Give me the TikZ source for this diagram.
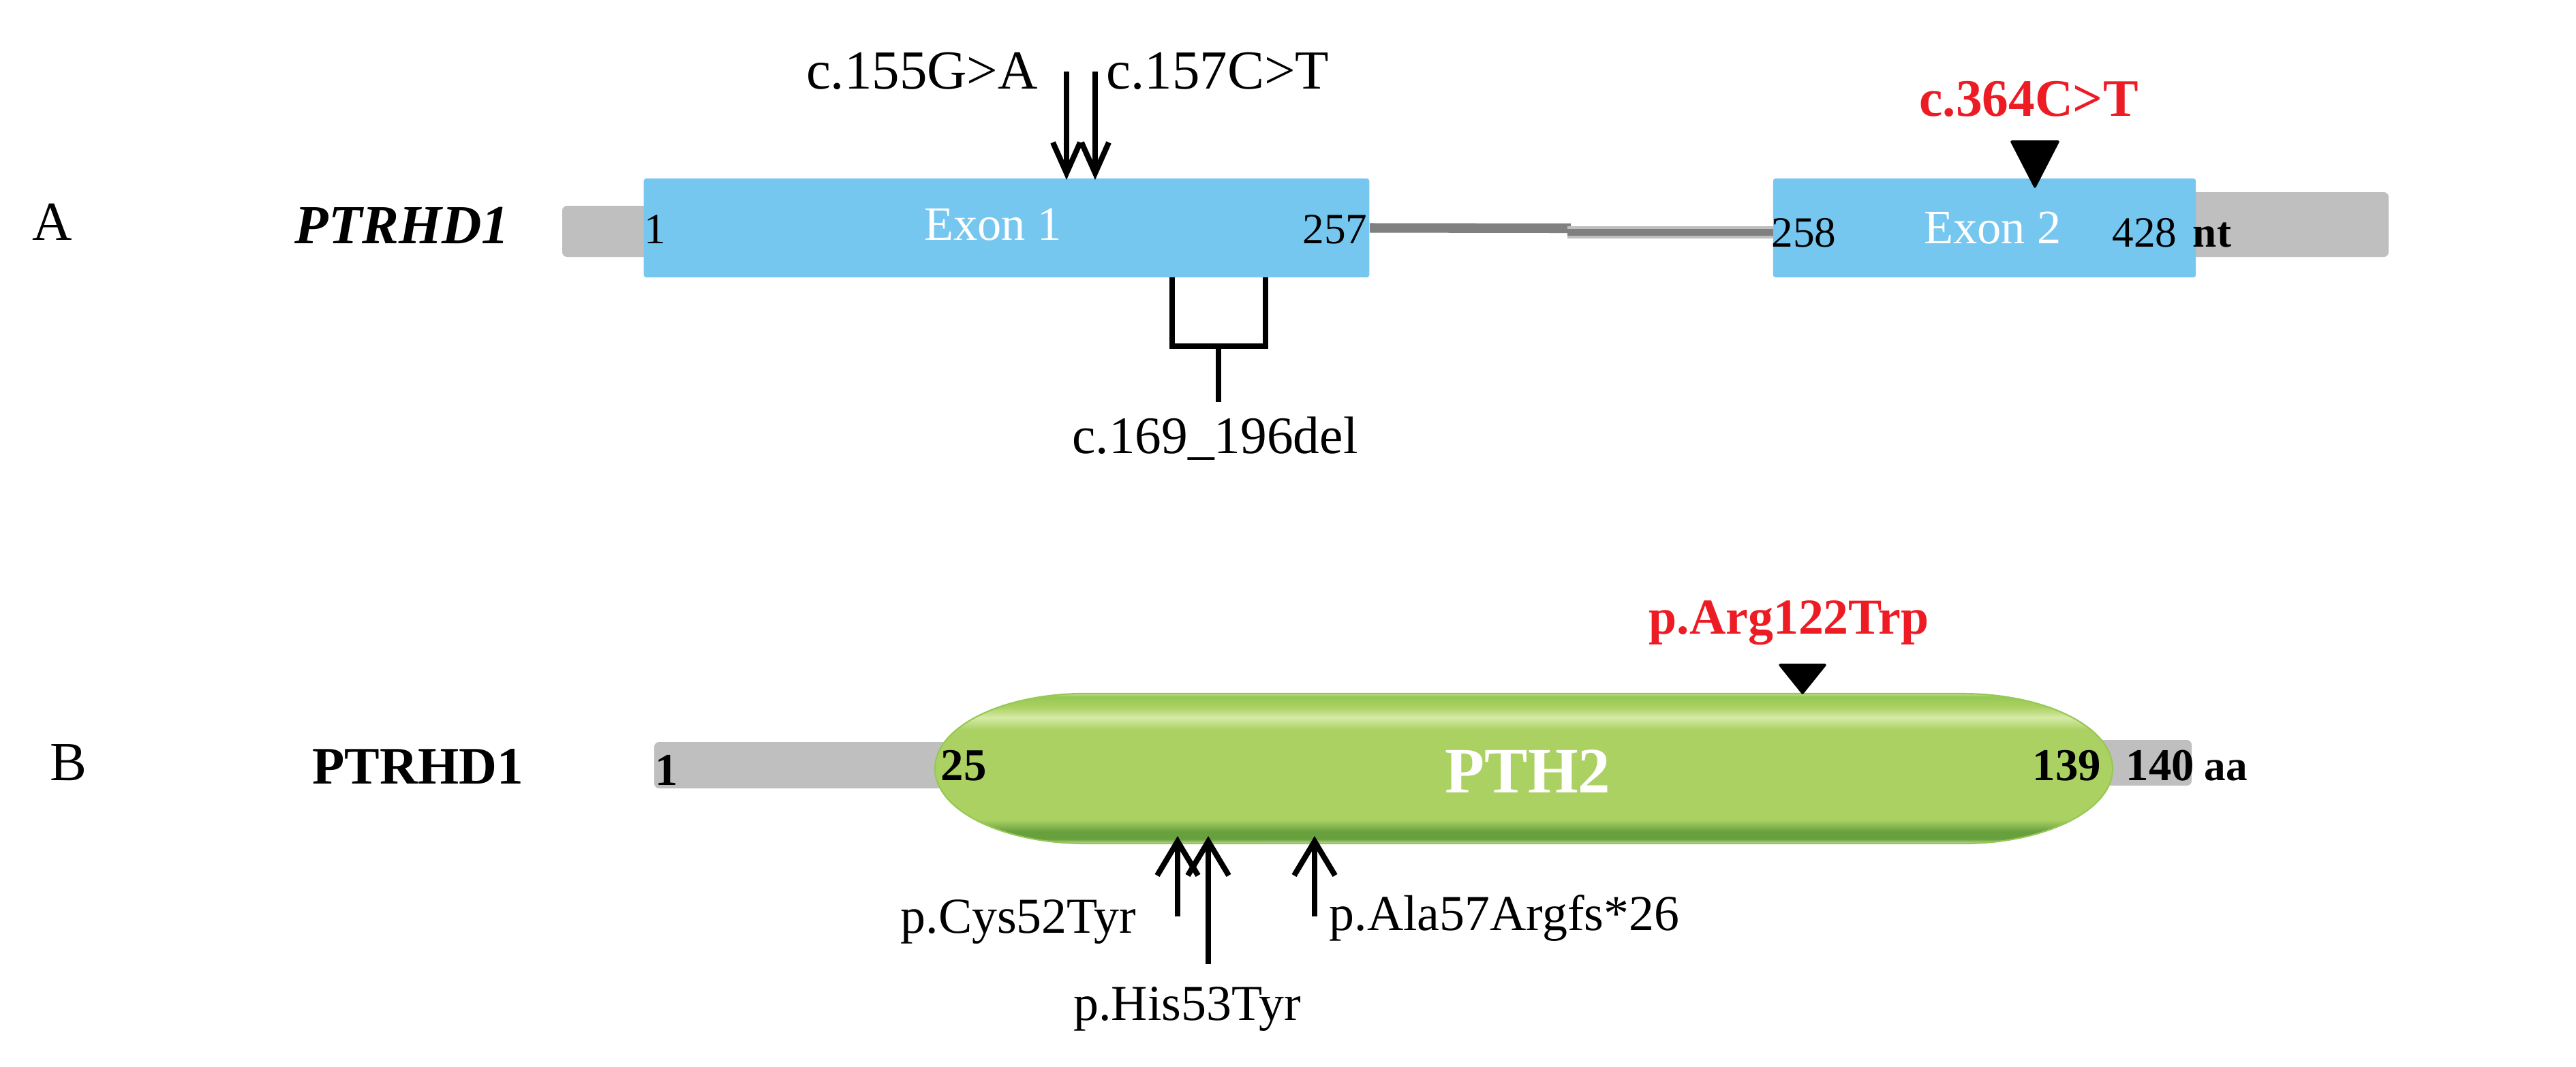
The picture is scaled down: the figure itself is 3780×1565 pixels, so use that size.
\documentclass[tikz,border=0pt]{standalone}
\usepackage{fontspec}
\setmainfont{Liberation Serif}
\usetikzlibrary{arrows.meta}
\definecolor{exonblue}{RGB}{117,199,240}
\definecolor{utrgrey}{RGB}{191,191,191}
\definecolor{intgrey}{RGB}{128,128,128}
\definecolor{mutred}{RGB}{237,28,36}
\definecolor{pilledge}{RGB}{196,224,150}
\definecolor{pilldark}{RGB}{104,160,62}
\definecolor{pillmid}{RGB}{171,209,99}
\definecolor{pilllight}{RGB}{214,234,166}
\definecolor{pilltop}{RGB}{150,200,85}
\pgfdeclareverticalshading{pillshade}{100bp}{color(0bp)=(pilledge); color(25bp)=(pilledge); color(26.5bp)=(pilldark); color(29bp)=(pilldark); color(33bp)=(pillmid); color(63bp)=(pillmid); color(67bp)=(pilllight); color(70.5bp)=(pillmid); color(74bp)=(pilltop); color(75bp)=(pilledge); color(100bp)=(pilledge)}

\begin{document}
\begin{tikzpicture}[x=0.01cm,y=-0.01cm]
\tikzset{txt/.style = {inner sep=0pt, anchor=base, font=\fontsize{23}{26}\selectfont}}
\tikzset{ptxt/.style = {inner sep=0pt, anchor=base, font=\fontsize{21}{24}\selectfont}}
\tikzset{redtxt/.style = {inner sep=0pt, anchor=base, text=mutred, font=\fontsize{22}{25}\selectfont\bfseries}}
\tikzset{numtxt/.style = {inner sep=0pt, anchor=base, font=\fontsize{18}{20}\selectfont}}
\tikzset{bnumtxt/.style = {inner sep=0pt, anchor=base, font=\fontsize{19}{21}\selectfont\bfseries}}
\tikzset{exontxt/.style = {inner sep=0pt, anchor=base, text=white, font=\fontsize{20}{22}\selectfont}}
\tikzset{exonbox/.style = {fill=exonblue, inner sep=0pt, minimum height=1.45cm, rounded corners=1pt}}
\tikzset{utr/.style = {fill=utrgrey, rounded corners=2pt}}
\tikzset{mutdown/.style = {line width=2.3pt, -{Straight Barb[length=0.45cm, width=0.4cm]}}}
\tikzset{mutup/.style = {line width=2.3pt, -{Straight Barb[length=0.5cm, width=0.6cm]}}}
\tikzset{bracket/.style = {line width=2.4pt, line join=miter}}
\tikzset{marker/.style = {fill=black, draw=black, line width=1pt, line join=round}}
\useasboundingbox (0,0) rectangle (3780,1565);

\fill[utr] (825,302) rectangle (960,377);
\fill[utr] (3200,282) rectangle (3505,377);
\node[exonbox, minimum width=10.64cm] (exon1) at (1477,334.5) {};
\node[exonbox, minimum width=6.2cm] (exon2) at (2912,334.5) {};

\coordinate (stepA) at (2305,335);
\coordinate (stepB) at (2300,341);
\coordinate (stepC) at (2602,341);
\draw[intgrey, line width=4pt] (exon1.east) -- (stepA);
\draw[utrgrey, line width=5pt] (stepB) -- (stepC);
\draw[intgrey, line width=3pt] (stepB) -- (stepC);

    \node[txt] (labA) at (77,352) {A};
    \node[txt, font=\fontsize{23}{26}\selectfont\bfseries\itshape] (geneA) at (590,357) {PTRHD1};
    \node[numtxt] (nt1) at (961,357) {1};
    \node[exontxt] (ex1txt) at (1457,352) {Exon 1};
    \node[numtxt] (nt257) at (1959,357) {257};
    \node[numtxt] (nt258) at (2647,362) {258};
    \node[exontxt] (ex2txt) at (2924,357) {Exon 2};
    \node[numtxt] (nt428) at (3147,362) {428};
    \node[bnumtxt, font=\fontsize{18}{20}\selectfont\bfseries] (ntunit) at (3246,362) {nt};

    \node[txt] (m155) at (1353,130) {c.155G>A};
    \node[txt] (m157) at (1787,130) {c.157C>T};
    \node[redtxt] (m364) at (2977,170) {c.364C>T};
    \node[txt, font=\fontsize{22}{25}\selectfont] (m169) at (1783,665) {c.169\_196del};

\coordinate (a155s) at (1565,105);
\coordinate (a155e) at (1565,264);
\coordinate (a157s) at (1607,105);
\coordinate (a157e) at (1607,264);
\draw[mutdown] (a155s) -- (a155e);
\draw[mutdown] (a157s) -- (a157e);

\coordinate (delL) at (1720,407);
\coordinate (delR) at (1857,407);
\coordinate (delM) at (1788,508);
\coordinate (delE) at (1788,590);
\draw[bracket] (delL) -- (delL |- delM) -- (delR |- delM) -- (delR);
\draw[bracket] (delM) -- (delE);

\coordinate (tipA) at (2986,274);
\fill[marker] (tipA) -- ++(-0.34cm,0.66cm) -- ++(0.68cm,0) -- cycle;

\fill[utr] (960,1089) rectangle (1440,1157);
\fill[utr] (3050,1086) rectangle (3216,1153);
\path[shading=pillshade, draw=pilltop, line width=0.6pt] (1592,1018) -- (2880,1018)
    arc[start angle=90, end angle=-90, x radius=2.2cm, y radius=1.1cm] -- (1592,1238)
    arc[start angle=270, end angle=90, x radius=2.2cm, y radius=1.1cm] -- cycle;

    \node[txt, font=\fontsize{23}{26}\selectfont] (labB) at (100,1145) {B};
    \node[txt, font=\fontsize{22}{25}\selectfont\bfseries] (geneB) at (613,1150) {PTRHD1};
    \node[bnumtxt] (aa1) at (978,1152) {1};
    \node[bnumtxt] (aa25) at (1414,1145) {25};
    \node[inner sep=0pt, anchor=base, text=white, font=\fontsize{27}{30}\selectfont\bfseries] (dom) at (2242,1163) {PTH2};
    \node[bnumtxt] (aa139) at (3033,1145) {139};
    \node[bnumtxt] (aa140) at (3170,1145) {140};
    \node[bnumtxt, font=\fontsize{18}{20}\selectfont\bfseries] (aaunit) at (3266,1145) {aa};

    \node[redtxt, font=\fontsize{21}{24}\selectfont\bfseries] (m122) at (2625,930) {p.Arg122Trp};
    \node[ptxt, anchor=base east] (m52) at (1668,1369) {p.Cys52Tyr};
    \node[ptxt] (m53) at (1742,1497) {p.His53Tyr};
    \node[ptxt, anchor=base west] (m57) at (1950,1365) {p.Ala57Argfs*26};

\coordinate (tipB) at (2645,1017);
\fill[marker] (tipB) -- ++(-0.33cm,0.41cm) -- ++(0.66cm,0) -- cycle;

\coordinate (c52s) at (1728,1345);
\coordinate (c52e) at (1728,1227);
\coordinate (h53s) at (1773,1415);
\coordinate (h53e) at (1773,1227);
\coordinate (a57s) at (1929,1345);
\coordinate (a57e) at (1929,1227);
\draw[mutup] (c52s) -- (c52e);
\draw[mutup] (h53s) -- (h53e);
\draw[mutup] (a57s) -- (a57e);

\end{tikzpicture}
\end{document}
